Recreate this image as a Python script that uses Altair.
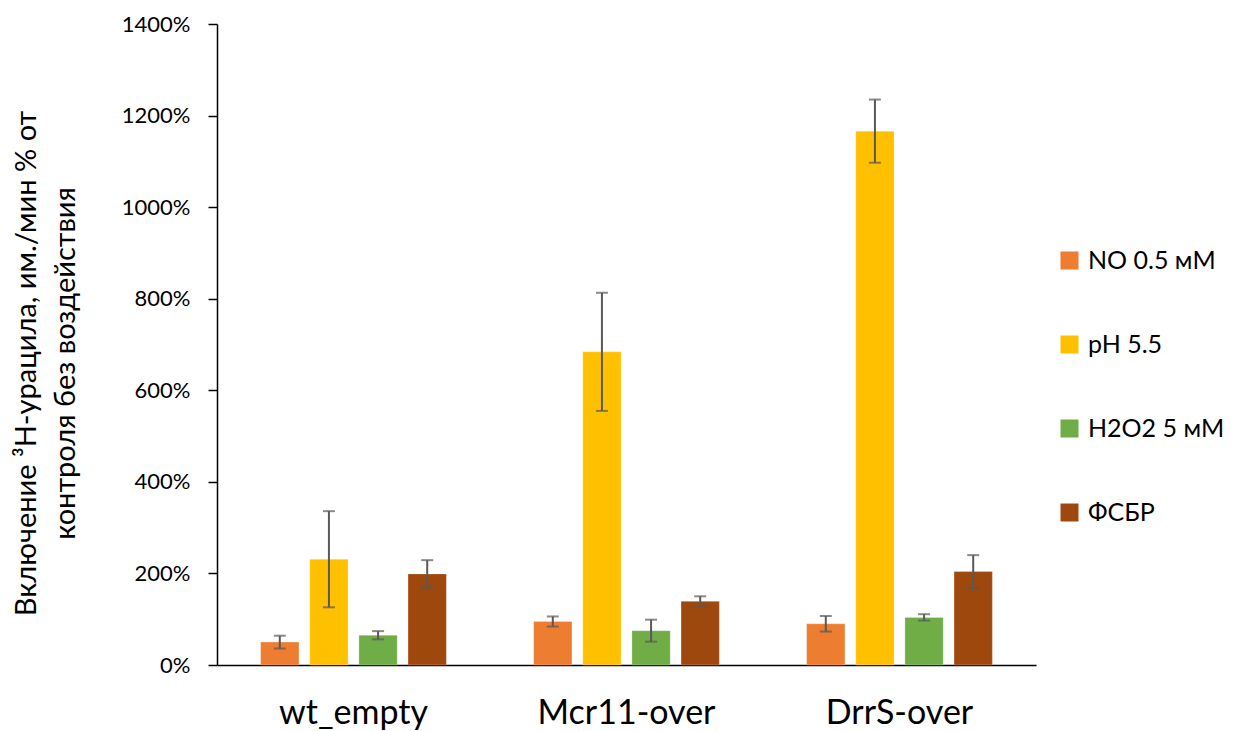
import altair as alt
import pandas as pd

groups = ["wt_empty", "Mcr11-over", "DrrS-over"]
series = ["NO 0.5 мМ", "pH 5.5", "H2O2 5 мМ", "ФСБР"]
colors = ["#ED7D31", "#FFC000", "#70AD47", "#9E480E"]

# values in %, rows = groups, cols = series
values = [
    [50, 231, 65, 199],
    [95, 684, 75, 139],
    [90, 1166, 104, 204],
]
errors = [
    [14, 105, 9, 30],
    [11, 129, 24, 11],
    [17, 69, 7, 36],
]

rows = []
for gi, g in enumerate(groups):
    for si, s in enumerate(series):
        v = values[gi][si]
        e = errors[gi][si]
        rows.append({"group": g, "series": s, "value": v, "lo": v - e, "hi": v + e})
df = pd.DataFrame(rows)

FONT = "Lato"

x_enc = alt.X("group:N", sort=groups, title=None,
              scale=alt.Scale(paddingInner=0.28, paddingOuter=0.14),
              axis=alt.Axis(labelAngle=0, labelFontSize=34, labelFont=FONT, labelColor="#000000",
                            ticks=False, labelBaseline="alphabetic", labelPadding=58,
                            domainColor="#000000", domainWidth=1.5))
xoff = alt.XOffset("series:N", sort=series,
                   scale=alt.Scale(paddingInner=0.22, paddingOuter=0.11))
y_scale = alt.Scale(domain=[0, 1400], nice=False)

base = alt.Chart(df)

bars = base.mark_bar(stroke="white", strokeWidth=0.5, strokeOpacity=0.5).encode(
    x=x_enc,
    xOffset=xoff,
    y=alt.Y("value:Q", scale=y_scale,
            title=["Включение ³H-урацила, им./мин % от", "контроля без воздействия"],
            axis=alt.Axis(values=list(range(0, 1401, 200)), labelExpr="datum.value + '%'",
                          grid=False, labelFontSize=22, labelFont=FONT, labelColor="#000000",
                          tickColor="#000000", tickSize=9, tickWidth=1.5, labelPadding=18,
                          domainColor="#000000", domainWidth=1.5,
                          titleFont=FONT, titleFontSize=29, titleFontWeight="normal",
                          titleColor="#000000", titleAngle=-90, titleBaseline="alphabetic",
                          titleAlign="center", titleX=-182, titleY=339, titleLineHeight=39)),
    color=alt.Color("series:N", sort=series,
                    scale=alt.Scale(domain=series, range=colors),
                    legend=alt.Legend(title=None, orient="none", legendX=840, legendY=224,
                                      symbolType="square", symbolSize=324, symbolStrokeWidth=0,
                                      labelFont=FONT, labelFontSize=25, labelColor="#000000",
                                      rowPadding=58, labelOffset=6)),
)

err = base.mark_rule(color="#595959", strokeWidth=2).encode(
    x=alt.X("group:N", sort=groups), xOffset=xoff, y="lo:Q", y2="hi:Q")
cap_lo = base.mark_tick(color="#595959", thickness=2, size=12, orient="horizontal").encode(
    x=alt.X("group:N", sort=groups), xOffset=xoff, y=alt.Y("lo:Q", scale=y_scale))
cap_hi = base.mark_tick(color="#595959", thickness=2, size=12, orient="horizontal").encode(
    x=alt.X("group:N", sort=groups), xOffset=xoff, y=alt.Y("hi:Q", scale=y_scale))

chart = alt.layer(bars, err, cap_lo, cap_hi).properties(
    width=819, height=641,
    background="white",
    autosize=alt.AutoSizeParams(type="none"),
    padding={"left": 209, "top": 16, "right": 199, "bottom": 66},
).configure_view(stroke=None)

chart.save("out.html", embed_options={"renderer": "svg", "actions": False})
